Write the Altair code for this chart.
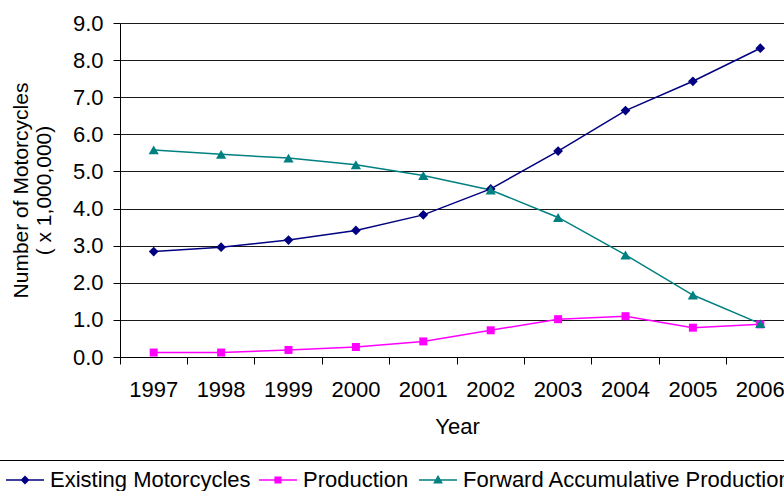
import altair as alt
import pandas as pd

# Years on the x axis
years = ["1997", "1998", "1999", "2000", "2001", "2002", "2003", "2004", "2005", "2006"]

# Values in millions of motorcycles
existing = [2.84, 2.96, 3.15, 3.41, 3.83, 4.53, 5.55, 6.64, 7.43, 8.32]
production = [0.12, 0.12, 0.19, 0.27, 0.42, 0.72, 1.02, 1.10, 0.79, 0.88]
forward = [5.58, 5.46, 5.36, 5.18, 4.89, 4.50, 3.76, 2.75, 1.67, 0.90]

series_names = ["Existing Motorcycles", "Production", "Forward Accumulative Production"]
series_values = [existing, production, forward]

# Styling per series
series_colors = ["#000080", "#FF00FF", "#008080"]
marker_shapes = ["diamond", "square", "triangle-up"]
marker_sizes = [95, 64, 105]
# legend symbols: a short line with the series marker in the middle
legend_paths = [
    "M-1,0H1M-0.18,0L0,-0.18L0.18,0L0,0.18Z",
    "M-1,0H1M-0.15,-0.15H0.15V0.15H-0.15Z",
    "M-1,0H1M0,-0.19L0.19,0.14H-0.19Z",
]
# left edge of each legend entry, relative to the plot origin
legend_xs = [-115, 138, 298]

FONT = "Liberation Sans"

rows = []
for name, vals in zip(series_names, series_values):
    for yr, v in zip(years, vals):
        rows.append({"year": yr, "series": name, "value": v})
df = pd.DataFrame(rows)

x_enc = alt.X(
    "year:O",
    sort=years,
    bandPosition=0.5,
    scale=alt.Scale(type="band", paddingInner=0, paddingOuter=0, range=[0, 674]),
    axis=alt.Axis(
        title="Year",
        titleFont=FONT, titleFontSize=22, titleFontWeight="normal", titleColor="black",
        titlePadding=16,
        labelFont=FONT, labelFontSize=22, labelColor="black", labelAngle=0,
        labelPadding=15,
        tickSize=7, tickColor="black", domainColor="black",
        grid=False, bandPosition=0,
    ),
)

y_enc = alt.Y(
    "value:Q",
    scale=alt.Scale(domain=[0, 9], nice=False),
    axis=alt.Axis(
        title=["Number of Motorcycles", "( x 1,000,000)"],
        titleFont=FONT, titleFontSize=21, titleFontWeight="normal", titleColor="black",
        titleLineHeight=23, titlePadding=18,
        values=[0, 1, 2, 3, 4, 5, 6, 7, 8, 9], format=".1f",
        labelFont=FONT, labelFontSize=22, labelColor="black", labelPadding=10,
        tickSize=7, tickColor="black", domainColor="black",
        grid=True, gridColor="#1a1a1a", gridWidth=1,
    ),
)

base = alt.Chart(df)

layers = []

# connecting lines, one per series
for name, col in zip(series_names, series_colors):
    layers.append(
        base.transform_filter(alt.datum.series == name)
        .mark_line(strokeWidth=1.5, color=col)
        .encode(x=x_enc, y=y_enc)
    )

# markers, one per series
for name, col, shp, sz in zip(series_names, series_colors, marker_shapes, marker_sizes):
    layers.append(
        base.transform_filter(alt.datum.series == name)
        .mark_point(filled=True, shape=shp, size=sz, color=col, opacity=1)
        .encode(x=x_enc, y=y_enc)
    )

# one single-entry legend per series; these layers draw nothing visible
for name, col, path, lx in zip(series_names, series_colors, legend_paths, legend_xs):
    leg = alt.Legend(
        title=None,
        orient="none",
        legendX=lx,
        legendY=437,
        padding=0,
        labelFont=FONT, labelFontSize=22, labelColor="black", labelLimit=1000,
        labelOffset=5,
        symbolType=path,
        symbolSize=1444,
        symbolStrokeWidth=1.5,
        symbolStrokeColor=col,
        symbolFillColor=col,
        symbolOpacity=1,
    )
    layers.append(
        base.transform_filter(alt.datum.series == name)
        .mark_point(filled=True, opacity=0)
        .encode(
            x=x_enc,
            y=y_enc,
            color=alt.Color("series:N", scale=alt.Scale(domain=[name], range=[col]), legend=leg),
        )
    )

# top edge of the legend box
layers.append(
    alt.Chart(pd.DataFrame({"k": [0]})).mark_rule(color="black", strokeWidth=1).encode(
        x=alt.value(-120), x2=alt.value(700), y=alt.value(437.5)
    )
)

chart = (
    alt.layer(*layers)
    .resolve_scale(color="independent")
    .resolve_legend(color="independent")
    .properties(
        width=664,
        height=334,
        padding={"left": 120, "top": 23, "right": 0, "bottom": 134},
        autosize=alt.AutoSizeParams(type="none"),
        background="white",
    )
    .configure_view(stroke=None)
)

chart.save("out.html", embed_options={"renderer": "svg", "actions": False})
